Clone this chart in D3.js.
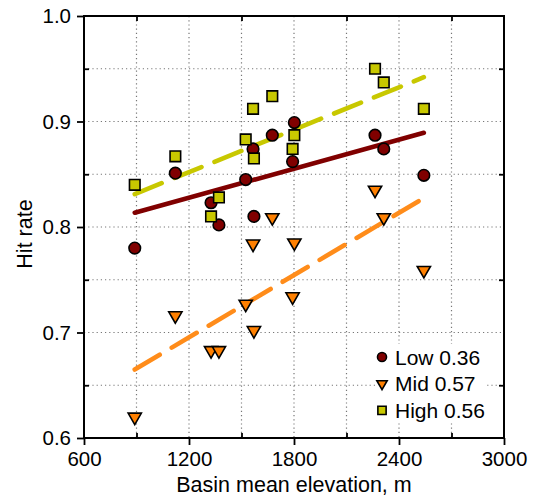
<!DOCTYPE html>
<html>
<head>
<meta charset="utf-8">
<script src="https://cdn.jsdelivr.net/npm/d3@7"></script>
<style>
  body { margin: 0; background: #fff; }
  text { font-family: "Liberation Sans", Arial, sans-serif; fill: #000; }
</style>
</head>
<body>
<div id="chart"></div>
<script>
// basin mean elevation (m) and hit rates per elevation band
var elevation = [890, 1122, 1326, 1371, 1524, 1566, 1571, 1676, 1802, 1792, 2263, 2313, 2542];
var lowRate  = [0.780, 0.851, 0.823, 0.802, 0.845, 0.874, 0.810, 0.887, 0.899, 0.862, 0.887, 0.874, 0.849];
var midRate  = [0.620, 0.716, 0.683, 0.683, 0.727, 0.784, 0.702, 0.809, 0.785, 0.734, 0.835, 0.809, 0.759];
var highRate = [0.840, 0.867, 0.810, 0.828, 0.883, 0.912, 0.865, 0.924, 0.887, 0.874, 0.950, 0.937, 0.912];

var seriesNames = ["Low", "Mid", "High"];
var seriesR2    = ["0.36", "0.57", "0.56"];

var xMajor = [600, 1200, 1800, 2400, 3000];
var xMinor = [900, 1500, 2100, 2700];
var yMajor = [0.6, 0.7, 0.8, 0.9, 1.0];
var yMinor = [0.65, 0.75, 0.85, 0.95];

var W = 533, H = 498;
var pL = 84, pR = 504, pT = 16, pB = 438;

var x = d3.scaleLinear().domain([600, 3000]).range([pL, pR]);
var y = d3.scaleLinear().domain([0.6, 1.0]).range([pB, pT]);

var svg = d3.select("#chart").append("svg")
    .attr("width", W)
    .attr("height", H);

// ---------------
// dotted grid
var grid = svg.append("g");
grid.selectAll("line.vx")
    .data(xMajor.concat(xMinor).filter(function(d) { return d > 600 && d < 3000; }))
    .enter().append("line")
    .attr("x1", function(d) { return x(d); })
    .attr("x2", function(d) { return x(d); })
    .attr("y1", pT).attr("y2", pB)
    .attr("stroke", "#777").attr("stroke-width", 1.2)
    .attr("stroke-dasharray", "1.2,3");
grid.selectAll("line.hy")
    .data(yMajor.concat(yMinor).filter(function(d) { return d > 0.6 && d < 1.0; }))
    .enter().append("line")
    .attr("y1", function(d) { return y(d); })
    .attr("y2", function(d) { return y(d); })
    .attr("x1", pL).attr("x2", pR)
    .attr("stroke", "#777").attr("stroke-width", 1.2)
    .attr("stroke-dasharray", "1.2,3");

// ---------------
// series
var series = [
    { name: "Low",  vals: lowRate,  fill: "#800000", line: "#800000", dash: null,    sym: "circle" },
    { name: "Mid",  vals: midRate,  fill: "#ff8000", line: "#ff8c1a", dash: "29,14", sym: "tri" },
    { name: "High", vals: highRate, fill: "#c8c800", line: "#c8c800", dash: "29,14", sym: "square" }
];

function fit(xs, ys) {
    var mx = d3.mean(xs), my = d3.mean(ys);
    var sxy = d3.sum(xs, function(d, i) { return (d - mx) * (ys[i] - my); });
    var sxx = d3.sum(xs, function(d) { return (d - mx) * (d - mx); });
    var b = sxy / sxx;
    return function(v) { return my + b * (v - mx); };
}

var x0 = d3.min(elevation), x1 = d3.max(elevation);

series.forEach(function(s) {
    var f = fit(elevation, s.vals);
    svg.append("line")
        .attr("x1", x(x0)).attr("y1", y(f(x0)))
        .attr("x2", x(x1)).attr("y2", y(f(x1)))
        .attr("stroke", s.line)
        .attr("stroke-width", 4.6)
        .attr("stroke-linecap", "round")
        .attr("stroke-dasharray", s.dash);
});

function drawSym(g, sym, fill, scale) {
    var k = scale || 1;
    if (sym === "circle") {
        g.append("circle").attr("r", 5.8 * k);
    } else if (sym === "tri") {
        g.append("path")
            .attr("d", d3.symbol().type(d3.symbolTriangle).size(76 * k * k)())
            .attr("transform", "rotate(180)");
    } else {
        g.append("path")
            .attr("d", d3.symbol().type(d3.symbolSquare).size(112 * k * k)());
    }
    g.selectAll("circle,path")
        .attr("fill", fill)
        .attr("stroke", "#000")
        .attr("stroke-width", 1.6);
}

series.forEach(function(s) {
    var g = svg.append("g");
    s.vals.forEach(function(v, i) {
        var m = g.append("g")
            .attr("transform", "translate(" + x(elevation[i]) + "," + y(v) + ")");
        drawSym(m, s.sym, s.fill);
    });
});

// ---------------
// axes
var axL = d3.axisLeft(y).tickValues(yMajor).tickSize(7).tickPadding(6).tickFormat(d3.format(".1f"));
var axB = d3.axisBottom(x).tickValues(xMajor).tickSize(7).tickPadding(6).tickFormat(d3.format("d"));

function styleAxis(g) {
    g.select(".domain").remove();
    g.selectAll("line").attr("stroke", "#000").attr("stroke-width", 1.8);
    g.selectAll("text").style("font-size", "20.5px").attr("fill", "#000");
}

svg.append("g").attr("transform", "translate(" + pL + ",0)").call(axL).call(styleAxis);
svg.append("g").attr("transform", "translate(0," + pB + ")").call(axB).call(styleAxis);

// minor ticks pointing inward, all four sides
svg.append("g").attr("transform", "translate(" + pL + ",0)")
    .call(d3.axisRight(y).tickValues(yMinor).tickSize(5).tickFormat(""))
    .call(styleAxis);
svg.append("g").attr("transform", "translate(" + pR + ",0)")
    .call(d3.axisLeft(y).tickValues(yMinor).tickSize(5).tickFormat(""))
    .call(styleAxis);
svg.append("g").attr("transform", "translate(0," + pB + ")")
    .call(d3.axisTop(x).tickValues(xMinor).tickSize(5).tickFormat(""))
    .call(styleAxis);
svg.append("g").attr("transform", "translate(0," + pT + ")")
    .call(d3.axisBottom(x).tickValues(xMinor).tickSize(5).tickFormat(""))
    .call(styleAxis);

svg.append("rect")
    .attr("x", pL).attr("y", pT)
    .attr("width", pR - pL).attr("height", pB - pT)
    .attr("fill", "none").attr("stroke", "#000").attr("stroke-width", 2);

// ---------------
// axis titles
svg.append("text")
    .attr("x", 294).attr("y", 492)
    .attr("text-anchor", "middle")
    .style("font-size", "21.5px")
    .text("Basin mean elevation, m");

svg.append("text")
    .attr("transform", "translate(32,234) rotate(-90)")
    .attr("text-anchor", "middle")
    .style("font-size", "21.5px")
    .text("Hit rate");

// ---------------
// legend
var leg = svg.append("g");
leg.append("rect")
    .attr("x", 375).attr("y", 344)
    .attr("width", 112).attr("height", 78)
    .attr("fill", "#fff");

series.forEach(function(s, i) {
    var cy = 357 + i * 26.7;
    var m = leg.append("g").attr("transform", "translate(382," + cy + ")");
    drawSym(m, s.sym, s.fill, 0.78);
    leg.append("text")
        .attr("x", 395).attr("y", cy + 7.5)
        .style("font-size", "21px")
        .text(seriesNames[i] + " " + seriesR2[i]);
});
</script>
</body>
</html>
